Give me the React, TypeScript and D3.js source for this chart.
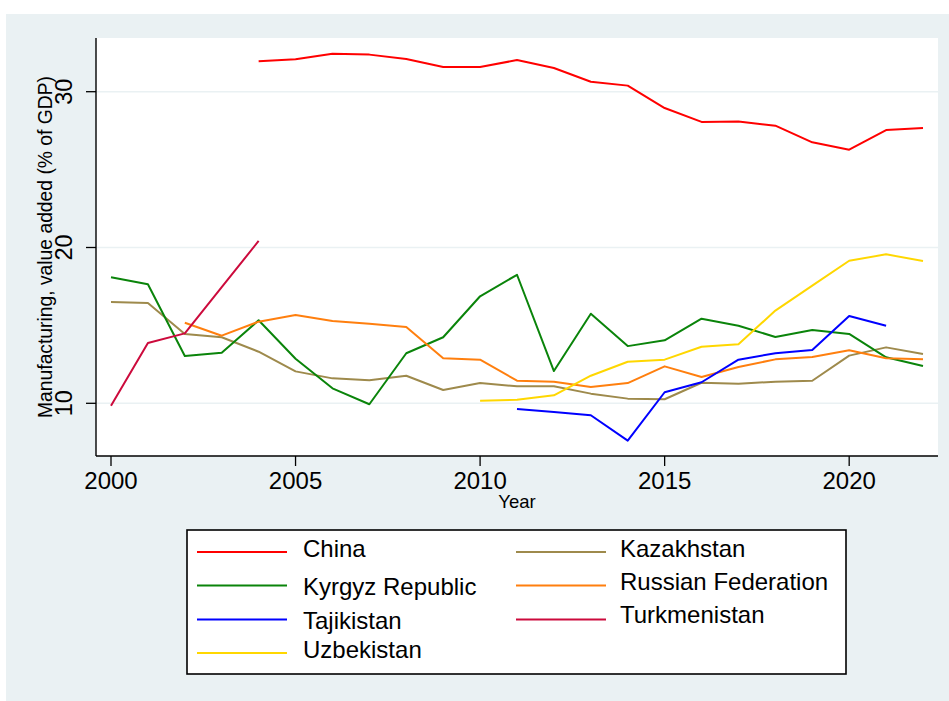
import React from "react";
import * as d3 from "d3";

const years = d3.range(2000, 2023);
const N = null;

const china = [N, N, N, N, 31.95, 32.08, 32.44, 32.38, 32.1, 31.59, 31.59, 32.03, 31.52, 30.64, 30.39, 28.95, 28.06, 28.08, 27.82, 26.75, 26.28, 27.54, 27.67];
const kazakhstan = [16.5, 16.44, 14.45, 14.24, 13.31, 12.05, 11.6, 11.48, 11.77, 10.85, 11.3, 11.09, 11.09, 10.62, 10.3, 10.26, 11.32, 11.26, 11.39, 11.45, 13.06, 13.59, 13.16];
const kyrgyz = [18.09, 17.64, 13.04, 13.25, 15.33, 12.86, 10.96, 9.94, 13.21, 14.24, 16.87, 18.25, 12.07, 15.75, 13.67, 14.04, 15.43, 14.98, 14.26, 14.7, 14.45, 12.95, 12.39];
const russia = [N, N, 15.17, 14.34, 15.24, 15.67, 15.28, 15.11, 14.9, 12.89, 12.8, 11.45, 11.39, 11.05, 11.3, 12.37, 11.69, 12.33, 12.82, 12.97, 13.4, 12.89, 12.82];
const tajikistan = [N, N, N, N, N, N, N, N, N, N, N, 9.63, 9.44, 9.23, 7.6, 10.71, 11.35, 12.8, 13.21, 13.42, 15.6, 14.98, N];
const turkmenistan = [9.85, 13.87, 14.49, 17.45, 20.42, N, N, N, N, N, N, N, N, N, N, N, N, N, N, N, N, N, N];
const uzbekistan = [N, N, N, N, N, N, N, N, N, N, 10.17, 10.23, 10.51, 11.77, 12.67, 12.8, 13.63, 13.79, 15.95, 17.55, 19.15, 19.56, 19.13];

const seriesNames = ["China", "Kazakhstan", "Kyrgyz Republic", "Russian Federation", "Tajikistan", "Turkmenistan", "Uzbekistan"];
const seriesValues = [china, kazakhstan, kyrgyz, russia, tajikistan, turkmenistan, uzbekistan];
const seriesColors = ["#ff0000", "#9e8a4c", "#0a840a", "#ff7f0e", "#0000ff", "#cc0a3c", "#ffd700"];

const xTicks = [2000, 2005, 2010, 2015, 2020];
const yTicks = [10, 20, 30];

// legend layout: [name index, column, row]
const legendOrder = [
  [0, 0, 0],
  [1, 1, 0],
  [2, 0, 1],
  [3, 1, 1],
  [4, 0, 2],
  [5, 1, 2],
  [6, 0, 3],
];
const legendTextY = [
  [557, 557],
  [595, 590],
  [629, 623],
  [658, 658],
];
const legendLineY = [552, 585.5, 619.5, 653];

const FONT = "'Liberation Sans', Arial, sans-serif";

export default function App() {
  const W = 949;
  const H = 701;
  const plotL = 96, plotR = 938, plotT = 38, plotB = 456;
  const x = d3.scaleLinear().domain([2000, 2022]).range([111, 923]);
  const y = d3.scaleLinear().domain([10, 30]).range([403.3, 91.7]);

  const line = d3
    .line<number | null>()
    .defined((d) => d != null)
    .x((_, i) => x(years[i]))
    .y((d) => y(d as number));

  const legendColX = [197, 516];
  const legendTextX = [303, 620];

  return (
    <svg
      width={W}
      height={H}
      style={{ position: "absolute", left: 0, top: 0, fontFamily: FONT }}
    >
      <rect x={0} y={0} width={W} height={H} fill="#ffffff" />
      <rect x={6} y={14} width={W - 6} height={H - 14} fill="#eaf1f3" />
      <rect x={plotL} y={plotT} width={plotR - plotL} height={plotB - plotT} fill="#ffffff" />

      {yTicks.map((t) => (
        <line key={"g" + t} x1={plotL} x2={plotR} y1={y(t)} y2={y(t)} stroke="#eaf1f3" strokeWidth={1.6} />
      ))}

      {seriesValues.map((vals, i) => (
        <path
          key={seriesNames[i]}
          d={line(vals) || ""}
          fill="none"
          stroke={seriesColors[i]}
          strokeWidth={2}
          strokeLinejoin="round"
        />
      ))}

      {/* axes */}
      <line x1={plotL} x2={plotL} y1={plotT} y2={plotB} stroke="#000" strokeWidth={1.4} />
      <line x1={plotL} x2={plotR} y1={plotB} y2={plotB} stroke="#000" strokeWidth={1.4} />

      {yTicks.map((t) => (
        <g key={"yt" + t}>
          <line x1={plotL - 10} x2={plotL} y1={y(t)} y2={y(t)} stroke="#000" strokeWidth={1.3} />
          <text
            transform={`translate(71.5,${y(t)}) rotate(-90)`}
            textAnchor="middle"
            fontSize={23.5}
            fill="#000"
          >
            {t}
          </text>
        </g>
      ))}

      {xTicks.map((t) => (
        <g key={"xt" + t}>
          <line x1={x(t)} x2={x(t)} y1={plotB} y2={plotB + 10} stroke="#000" strokeWidth={1.3} />
          <text x={x(t)} y={488.5} textAnchor="middle" fontSize={24} fill="#000">
            {t}
          </text>
        </g>
      ))}

      <text
        transform={`translate(52,${(plotT + plotB) / 2}) rotate(-90)`}
        textAnchor="middle"
        fontSize={19.3}
        fill="#000"
      >
        Manufacturing, value added (% of GDP)
      </text>
      <text x={(plotL + plotR) / 2} y={508} textAnchor="middle" fontSize={18.5} fill="#000">
        Year
      </text>

      {/* legend */}
      <rect x={187} y={530} width={659} height={144} fill="#ffffff" stroke="#000" strokeWidth={1.6} />
      {legendOrder.map(([si, col, row]) => (
        <g key={"lg" + si}>
          <line
            x1={legendColX[col]}
            x2={legendColX[col] + 90}
            y1={legendLineY[row]}
            y2={legendLineY[row]}
            stroke={seriesColors[si]}
            strokeWidth={2}
          />
          <text x={legendTextX[col]} y={legendTextY[row][col]} fontSize={24} fill="#000">
            {seriesNames[si]}
          </text>
        </g>
      ))}
    </svg>
  );
}
